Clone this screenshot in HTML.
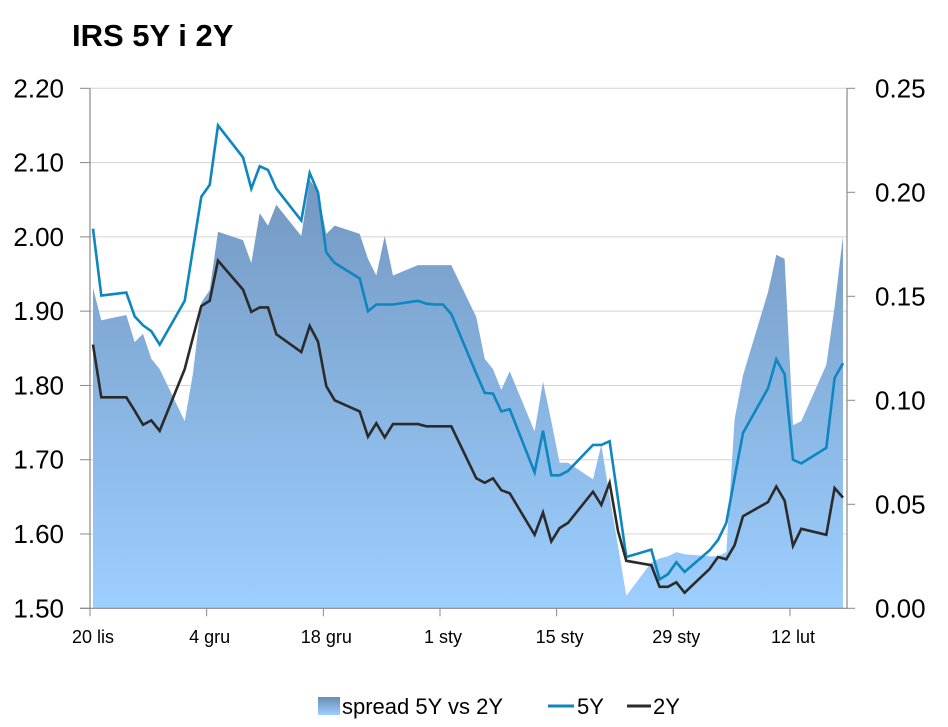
<!DOCTYPE html>
<html><head><meta charset="utf-8"><style>
body{margin:0;background:#fff;}
svg{display:block;font-family:"Liberation Sans","DejaVu Sans",sans-serif;}
</style></head><body>
<svg id="chart" width="948" height="727" viewBox="0 0 948 727">
<defs>
<linearGradient id="sg" gradientUnits="userSpaceOnUse" x1="0" y1="88" x2="0" y2="608">
<stop offset="0" stop-color="#6a8cb4"/><stop offset="1" stop-color="#9dcfff"/></linearGradient>
<linearGradient id="lg" x1="0" y1="0" x2="0" y2="1">
<stop offset="0" stop-color="#6a8cb4"/><stop offset="1" stop-color="#9dcfff"/></linearGradient>
</defs>
<text x="72" y="46" font-size="31" font-weight="bold" fill="#000">IRS 5Y i 2Y</text>
<g id="grid"></g>
<g id="plot"></g>
<g id="axes"></g>
<g>
<rect x="318" y="697" width="22" height="18" fill="url(#lg)"/>
<text x="342" y="714" font-size="22" fill="#000">spread 5Y vs 2Y</text>
<line x1="548" y1="706" x2="574" y2="706" stroke="#0e86c0" stroke-width="3"/>
<text x="577" y="714" font-size="22" fill="#000">5Y</text>
<line x1="627" y1="706" x2="651" y2="706" stroke="#2b2b2b" stroke-width="3"/>
<text x="653" y="714" font-size="22" fill="#000">2Y</text>
</g>
</svg>
<script>
const days=[0,1,4,5,6,7,8,11,12,13,14,15,18,19,20,21,22,25,26,27,28,29,32,33,34,35,36,39,40,41,42,43,46,47,48,49,50,53,54,55,56,57,60,61,62,63,64,67,68,69,70,71,74,75,76,77,78,81,82,83,84,85,88,89,90];
const y5=[2.011,1.921,1.925,1.893,1.881,1.873,1.855,1.914,1.984,2.054,2.070,2.150,2.107,2.065,2.095,2.090,2.065,2.022,2.086,2.060,1.979,1.965,1.944,1.900,1.909,1.909,1.909,1.914,1.910,1.909,1.909,1.896,1.816,1.790,1.789,1.765,1.768,1.683,1.739,1.679,1.679,1.685,1.720,1.720,1.725,1.647,1.569,1.579,1.539,1.546,1.562,1.549,1.578,1.592,1.615,1.676,1.736,1.796,1.835,1.815,1.700,1.695,1.716,1.810,1.830];
const y2=[1.855,1.784,1.784,1.766,1.747,1.753,1.739,1.822,1.865,1.907,1.914,1.968,1.929,1.899,1.905,1.905,1.869,1.845,1.880,1.859,1.799,1.780,1.765,1.731,1.749,1.730,1.748,1.748,1.745,1.745,1.745,1.745,1.675,1.669,1.675,1.659,1.655,1.599,1.629,1.590,1.608,1.615,1.657,1.639,1.669,1.604,1.564,1.558,1.529,1.529,1.535,1.521,1.553,1.569,1.566,1.585,1.624,1.643,1.664,1.645,1.584,1.607,1.599,1.662,1.649];
const spread=[0.154,0.1385,0.141,0.128,0.132,0.120,0.115,0.090,0.113,0.147,0.153,0.181,0.177,0.166,0.190,0.184,0.194,0.179,0.206,0.200,0.180,0.184,0.180,0.168,0.160,0.179,0.160,0.165,0.165,0.165,0.165,0.165,0.140,0.120,0.115,0.105,0.114,0.085,0.109,0.090,0.070,0.070,0.062,0.0785,0.054,0.030,0.006,0.022,0.024,0.025,0.027,0.026,0.025,0.025,0.027,0.091,0.112,0.152,0.170,0.168,0.088,0.090,0.117,0.145,0.179];
const leftTicks=["1.50","1.60","1.70","1.80","1.90","2.00","2.10","2.20"];
const rightTicks=["0.00","0.05","0.10","0.15","0.20","0.25"];
const xLabels=["20 lis","4 gru","18 gru","1 sty","15 sty","29 sty","12 lut"];
const xLabelDays=[0,14,28,42,56,70,84];

const NS="http://www.w3.org/2000/svg";
const X0=90,X1=847,Y0=608.3,Y1=88.3;
const xs=d=>93+d*8.333;
const yl=v=>Y0-(v-1.5)/0.7*(Y0-Y1);
const yr=v=>Y0-v/0.25*(Y0-Y1);
function mk(tag,attrs,parent){const e=document.createElementNS(NS,tag);for(const k in attrs)e.setAttribute(k,attrs[k]);parent.appendChild(e);return e;}
const grid=document.getElementById('grid'),plot=document.getElementById('plot'),axes=document.getElementById('axes');

leftTicks.forEach((t,i)=>{const v=parseFloat(t),y=yl(v);
 if(i>0){const g=mk('line',{x1:X0,x2:X1,y1:y,y2:y,stroke:'#d4d4d4','stroke-width':1},grid);
 
 }
 const tk=mk('line',{x1:80,x2:X0,y1:y,y2:y,stroke:'#888','stroke-width':1},axes);
 
 
 const tx=mk('text',{x:64,y:y+9,'font-size':26,'text-anchor':'end',fill:'#000'},axes);tx.textContent=t;
 
 
});
rightTicks.forEach(t=>{const y=yr(parseFloat(t));
 const tk=mk('line',{x1:X1,x2:X1+8,y1:y,y2:y,stroke:'#888','stroke-width':1},axes);
 
 
 const tx=mk('text',{x:875,y:y+9,'font-size':26,fill:'#000'},axes);tx.textContent=t;
 
 
});
xLabels.forEach((t,i)=>{const x=X0+xLabelDays[i]*8.333;
 const tk=mk('line',{x1:x,x2:x,y1:Y0,y2:Y0+8,stroke:'#888','stroke-width':1},axes);
 
 
 const tx=mk('text',{x:x+3,y:643,'font-size':18,'text-anchor':'middle',fill:'#000'},axes);tx.textContent=t;
 
 
});
const la=mk('line',{x1:X0,x2:X0,y1:Y1,y2:Y0,stroke:'#888','stroke-width':1.2},axes);


const ra=mk('line',{x1:X1,x2:X1,y1:Y1,y2:Y0,stroke:'#888','stroke-width':1.2},axes);


const ba=mk('line',{x1:80,x2:X1,y1:Y0,y2:Y0,stroke:'#888','stroke-width':1.2},axes);



let d='M'+xs(days[0])+','+Y0;
days.forEach((dd,i)=>{d+=' L'+xs(dd).toFixed(1)+','+yr(spread[i]).toFixed(1);});
d+=' L'+xs(days[days.length-1])+','+Y0+' Z';
const area=mk('path',{d:d,fill:'url(#sg)'},plot);


function line(vals,color,name){const p=days.map((dd,i)=>xs(dd).toFixed(1)+','+yl(vals[i]).toFixed(1)).join(' ');
 const e=mk('polyline',{points:p,fill:'none',stroke:color,'stroke-width':2.6,'stroke-linejoin':'miter'},plot);
 
 }
line(y5,'#0e86c0','line-5y');
line(y2,'#2b2b2b','line-2y');
</script>
</body></html>
